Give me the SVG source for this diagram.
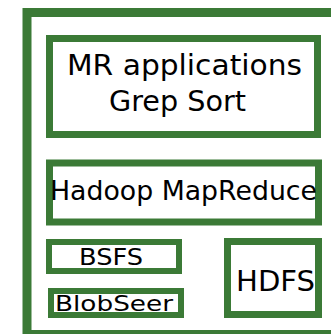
<svg xmlns="http://www.w3.org/2000/svg" width="331" height="334" viewBox="0 0 331 334">
<style>
.box{fill:#ffffff;stroke:#3b7a36}
.t{font-family:"DejaVu Sans","Liberation Sans",sans-serif;fill:#000000}
</style>
<rect width="331" height="334" fill="#ffffff"/>
<g id="frame"><rect class="box" x="27" y="12.5" width="330" height="322" stroke-width="9"/></g>
<g id="mr-applications">
<rect class="box" x="49.5" y="38.5" width="268" height="96" stroke-width="7"/>
<text class="t" x="67" y="75" font-size="28.5" textLength="235" lengthAdjust="spacingAndGlyphs">MR applications</text>
<text class="t" x="109" y="111" font-size="28.5" textLength="137" lengthAdjust="spacingAndGlyphs">Grep Sort</text>
</g>
<g id="hadoop-mapreduce">
<rect class="box" x="49.5" y="163" width="269" height="59" stroke-width="7"/>
<text class="t" x="50" y="200" font-size="27" textLength="267" lengthAdjust="spacingAndGlyphs">Hadoop MapReduce</text>
</g>
<g id="bsfs">
<rect class="box" x="49" y="242" width="130" height="29" stroke-width="6"/>
<text class="t" x="79" y="265" font-size="23" textLength="64" lengthAdjust="spacingAndGlyphs">BSFS</text>
</g>
<g id="blobseer">
<rect class="box" x="51" y="291" width="130" height="24" stroke-width="6"/>
<text class="t" x="55" y="311" font-size="21" textLength="118" lengthAdjust="spacingAndGlyphs">BlobSeer</text>
</g>
<g id="hdfs">
<rect class="box" x="227.5" y="241.5" width="91" height="73" stroke-width="7"/>
<text class="t" x="236" y="291" font-size="29" textLength="79" lengthAdjust="spacingAndGlyphs">HDFS</text>
</g>
<g id="connectors"></g>
</svg>
